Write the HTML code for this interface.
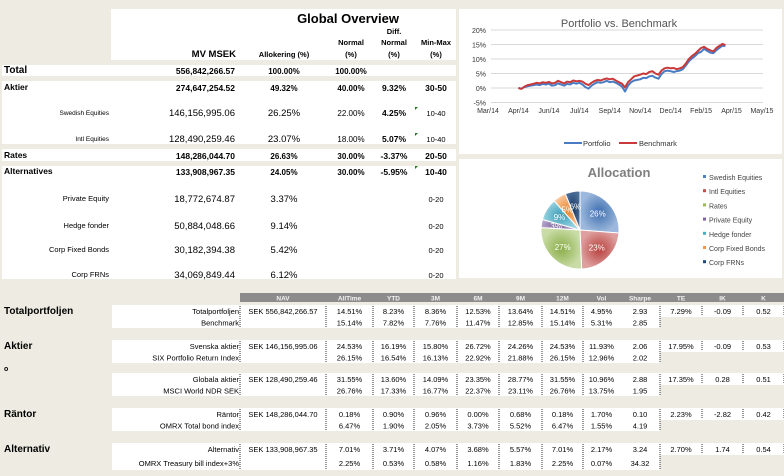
<!DOCTYPE html>
<html><head><meta charset="utf-8">
<style>
body{margin:0;background:#edebe2;}
svg{display:block;font-family:"Liberation Sans",sans-serif;}
</style></head>
<body>
<svg id="s" width="784" height="476" viewBox="0 0 784 476" xmlns="http://www.w3.org/2000/svg">
<defs>
<radialGradient id="gBlue" cx="0.5" cy="0.5" r="0.5"><stop offset="0" stop-color="#3d6fb0"/><stop offset="1" stop-color="#9db8dc"/></radialGradient>
<radialGradient id="gRed" cx="0.5" cy="0.5" r="0.5"><stop offset="0" stop-color="#b8403d"/><stop offset="1" stop-color="#dea09f"/></radialGradient>
<radialGradient id="gGreen" cx="0.5" cy="0.5" r="0.5"><stop offset="0" stop-color="#8aae48"/><stop offset="1" stop-color="#c9dca6"/></radialGradient>
<radialGradient id="gPurple" cx="0.5" cy="0.5" r="0.5"><stop offset="0" stop-color="#6e5590"/><stop offset="1" stop-color="#b5a4cc"/></radialGradient>
<radialGradient id="gCyan" cx="0.5" cy="0.5" r="0.5"><stop offset="0" stop-color="#3b9cb6"/><stop offset="1" stop-color="#9bd4e2"/></radialGradient>
<radialGradient id="gOrange" cx="0.5" cy="0.5" r="0.5"><stop offset="0" stop-color="#e8852e"/><stop offset="1" stop-color="#f9c59a"/></radialGradient>
<radialGradient id="gNavy" cx="0.5" cy="0.5" r="0.5"><stop offset="0" stop-color="#17375e"/><stop offset="1" stop-color="#4a6d98"/></radialGradient>
</defs>
</svg>
<script>
// ---------- line chart data ----------
const xTickLabels=["Mar/14","Apr/14","Jun/14","Jul/14","Sep/14","Nov/14","Dec/14","Feb/15","Apr/15","May/15"];
const yTickValues=[20,15,10,5,0,-5];
const seriesStart=1.0, seriesStep=0.1;
const benchmark=[0.0,-0.3,0.5,1.0,1.2,1.5,1.8,1.6,2.0,1.8,
2.1,1.6,1.8,2.5,2.0,1.6,2.2,2.0,2.6,2.3,
2.5,2.2,1.5,1.0,1.8,2.4,2.8,2.6,3.0,3.3,
3.0,3.2,2.6,2.0,1.5,0.2,2.0,3.0,4.0,4.3,
4.6,5.0,4.8,5.5,5.8,5.0,4.6,6.0,6.8,7.0,
6.8,6.9,6.5,6.8,7.2,8.5,10.0,11.0,11.8,12.8,
13.8,14.2,13.5,13.0,12.6,13.8,14.5,15.2,14.8];
const portfolio=[0.0,-0.2,0.3,0.6,0.8,1.0,1.2,1.0,1.4,1.2,
1.5,0.8,1.0,1.6,1.2,0.8,1.4,1.2,1.8,1.5,
1.8,1.2,0.3,-0.2,0.8,1.5,2.0,1.8,2.0,2.5,
2.0,2.2,1.8,1.2,0.5,-1.2,0.8,2.0,2.6,2.8,
3.0,3.5,3.4,4.0,4.2,3.6,3.2,4.8,5.8,6.0,
5.8,5.5,5.8,6.0,6.5,7.8,9.2,10.2,11.0,12.0,
12.5,13.5,12.8,12.2,12.0,13.0,13.8,14.6,14.5];
// ---------- pie data ----------
const pieLabels=["Swedish Equities","Intl Equities","Rates","Private Equity","Hedge fonder","Corp Fixed Bonds","Corp FRNs"];
const pieValues=[26.25,23.07,26.63,3.37,9.14,5.42,6.12];
const pieFills=["url(#gBlue)","url(#gRed)","url(#gGreen)","url(#gPurple)","url(#gCyan)","url(#gOrange)","url(#gNavy)"];
const pieLegendColors=["#4f81bd","#c0504d","#9bbb59","#8064a2","#4bacc6","#f79646","#1f497d"];

const NS="http://www.w3.org/2000/svg";
const svg=document.getElementById('s');
function el(tag,attrs,parent){const e=document.createElementNS(NS,tag);for(const k in attrs)e.setAttribute(k,attrs[k]);(parent||svg).appendChild(e);return e;}
function T(x,y,s,size,anchor,weight,fill,name){const t=el('text',{x:x,y:y,'font-size':size,'text-anchor':anchor||'start','font-weight':weight||'normal',fill:fill||'#000'});t.textContent=s;


return t;}
function R(x,y,w,h,fill,name){const r=el('rect',{x:x,y:y,width:w,height:h,fill:fill});


return r;}

// ---------- top table ----------
R(111,9,345,51,'#fff','overview-header-box');
R(2,65,454,11,'#fff','row-total-band');
R(2,81,454,63,'#fff','row-aktier-band');
R(2,149,454,12,'#fff','row-rates-band');
R(2,166,454,113,'#fff','row-alternatives-band');
T(348,23,"Global Overview",13,'middle','bold','#000','overview-title');
T(236,57,"MV MSEK",9.5,'end','bold','#000','col-mv');
T(284,57,"Allokering (%)",7.5,'middle','bold','#000','col-allokering');
T(351,45,"Normal",7.5,'middle','bold','#000','col-normal');
T(351,57,"(%)",7.5,'middle','bold','#000','col-normal-unit');
T(394,34,"Diff.",7.5,'middle','bold','#000','col-diff');
T(394,45,"Normal",7.5,'middle','bold','#000','col-diff-normal');
T(394,57,"(%)",7.5,'middle','bold','#000','col-diff-unit');
T(436,45,"Min-Max",7.5,'middle','bold','#000','col-minmax');
T(436,57,"(%)",7.5,'middle','bold','#000','col-minmax-unit');
const topRows=[
 ["Total","556,842,266.57","100.00%","100.00%","","",74,'total',1],
 ["Aktier","274,647,254.52","49.32%","40.00%","9.32%","30-50",91,'main',0],
 ["Swedish Equities","146,156,995.06","26.25%","22.00%","4.25%","10-40",116,'sub',1],
 ["Intl Equities","128,490,259.46","23.07%","18.00%","5.07%","10-40",142,'sub',1],
 ["Rates","148,286,044.70","26.63%","30.00%","-3.37%","20-50",159,'main',0],
 ["Alternatives","133,908,967.35","24.05%","30.00%","-5.95%","10-40",175,'main',1],
 ["Private Equity","18,772,674.87","3.37%","","","0-20",202,'alt',0],
 ["Hedge fonder","50,884,048.66","9.14%","","","0-20",229,'alt',0],
 ["Corp Fixed Bonds","30,182,394.38","5.42%","","","0-20",253,'alt',0],
 ["Corp FRNs","34,069,849.44","6.12%","","","0-20",278,'alt',0]];
topRows.forEach(r=>{
 const y=r[6],k=r[7];
 const main=(k==='main'||k==='total');
 if(main) T(4,y-1,r[0],k==='total'?10:8.5,'start','bold','#000','row-label');
 else T(109,y-1,r[0],k==='sub'?6.5:7.5,'end','normal','#000','row-label');
 T(235,y,r[1],main?8.5:9.5,'end',main?'bold':'normal','#000','row-mv');
 T(284,y,r[2],main?8:9.5,'middle',main?'bold':'normal','#000','row-allokering');
 if(r[3])T(351,y,r[3],main?8:8,'middle',main?'bold':'normal','#000','row-normal');
 if(r[4])T(394,y,r[4],8.5,'middle','bold','#000','row-diff');
 if(r[5])T(436,y,r[5],main?8.5:7.5,'middle',main?'bold':'normal','#000','row-minmax');
 if(r[8]&&k!=='total'){const p=el('path',{d:`M415 ${y-9} h3 l-3 3z`,fill:'#1a7a1a'});
  
  }
});

// ---------- line chart ----------
R(459,9,323,145,'#fff','line-chart-panel');
T(619,27,"Portfolio vs. Benchmark",11,'middle','normal','#555','line-chart-title');
const x0=488,dx=30.44,yZero=88,pxPer=2.9;
const xs=t=>x0+t*dx, ys=v=>yZero-v*pxPer;
yTickValues.forEach(v=>{
 const g=el('line',{x1:491,x2:763,y1:ys(v),y2:ys(v),stroke:'#d9d9d9','stroke-width':1});
 
 
 T(486,ys(v)+3,v+"%",7,'end','normal','#333','y-tick-label');
});
xTickLabels.forEach((l,i)=>T(xs(i),113,l,7,'middle','normal','#333','x-tick-label'));
function linePath(arr){return arr.map((v,i)=>(i?'L':'M')+xs(seriesStart+i*seriesStep).toFixed(1)+' '+ys(v).toFixed(1)).join(' ');}
const pl=el('path',{d:linePath(portfolio),fill:'none',stroke:'#4a7cc4','stroke-width':2,'stroke-linejoin':'round'});


const bl=el('path',{d:linePath(benchmark),fill:'none',stroke:'#c9393a','stroke-width':2,'stroke-linejoin':'round'});


const l1=el('line',{x1:564,x2:582,y1:143,y2:143,stroke:'#4a7cc4','stroke-width':2});


T(583,146,"Portfolio",7.5,'start','normal','#333','legend-portfolio');
const l2=el('line',{x1:619,x2:637,y1:143,y2:143,stroke:'#c9393a','stroke-width':2});


T(639,146,"Benchmark",7.5,'start','normal','#333','legend-benchmark');

// ---------- pie ----------
R(459,159,323,119,'#fff','allocation-panel');
T(619,177,"Allocation",13,'middle','bold','#7f7f7f','pie-title');
const cx=580,cy=230,rad=39;
const total=pieValues.reduce((a,b)=>a+b,0);
let acc=0;
pieValues.forEach((v,i)=>{
 const a0=acc/total*2*Math.PI-Math.PI/2; acc+=v; const a1=acc/total*2*Math.PI-Math.PI/2;
 const large=(a1-a0)>Math.PI?1:0;
 const d=`M${cx} ${cy} L${cx+rad*Math.cos(a0)} ${cy+rad*Math.sin(a0)} A${rad} ${rad} 0 ${large} 1 ${cx+rad*Math.cos(a1)} ${cy+rad*Math.sin(a1)} Z`;
 const p=el('path',{d:d,fill:pieFills[i],stroke:'#fff','stroke-width':1});
 
 
 const am=(a0+a1)/2, lr=rad*0.62;
 T(cx+lr*Math.cos(am),cy+lr*Math.sin(am)+3,Math.round(v)+"%",8,'middle','normal','#fff','pie-slice-label');
 const m=el('rect',{x:703,y:175+i*14.2,width:3,height:3,fill:pieLegendColors[i]});
 
 
 T(709,180+i*14.2,pieLabels[i],7,'start','normal','#444','legend-entry');
});

// ---------- bottom table ----------
const colBounds=[240,326,373,414,457,499,542,583,620,660,702,743,784];
const colHeads=["NAV","AllTime","YTD","3M","6M","9M","12M","Vol","Sharpe","TE","IK","K"];
R(240,293,544,9,'#8c8c8c','perf-header-bar');
colHeads.forEach((h,i)=>T((colBounds[i]+colBounds[i+1])/2,300.5,h,6.5,'middle','bold','#f2f2f2','perf-col-header'));
const groups=[
 ["Totalportfoljen",305,[["Totalportfoljen","SEK 556,842,266.57","14.51%","8.23%","8.36%","12.53%","13.64%","14.51%","4.95%","2.93","7.29%","-0.09","0.52"],["Benchmark","","15.14%","7.82%","7.76%","11.47%","12.85%","15.14%","5.31%","2.85"]]],
 ["Aktier",340,[["Svenska aktier","SEK 146,156,995.06","24.53%","16.19%","15.80%","26.72%","24.26%","24.53%","11.93%","2.06","17.95%","-0.09","0.53"],["SIX Portfolio Return Index","","26.15%","16.54%","16.13%","22.92%","21.88%","26.15%","12.96%","2.02"]]],
 ["",373,[["Globala aktier","SEK 128,490,259.46","31.55%","13.60%","14.09%","23.35%","28.77%","31.55%","10.96%","2.88","17.35%","0.28","0.51"],["MSCI World NDR SEK","","26.76%","17.33%","16.77%","22.37%","23.11%","26.76%","13.75%","1.95"]]],
 ["Räntor",408,[["Räntor","SEK 148,286,044.70","0.18%","0.90%","0.96%","0.00%","0.68%","0.18%","1.70%","0.10","2.23%","-2.82","0.42"],["OMRX Total bond index","","6.47%","1.90%","2.05%","3.73%","5.52%","6.47%","1.55%","4.19"]]],
 ["Alternativ",443,[["Alternativ","SEK 133,908,967.35","7.01%","3.71%","4.07%","3.68%","5.57%","7.01%","2.17%","3.24","2.70%","1.74","0.54"],["OMRX Treasury bill index+3%","","2.25%","0.53%","0.58%","1.16%","1.83%","2.25%","0.07%","34.32"]]]];
groups.forEach((g,gi)=>{
 const y0=g[1]; const h1=12, h2=(gi===4)?15:11;
 R(112,y0,672,h1,'#fff','perf-row-band');
 R(112,y0+h1,548,h2,'#fff','perf-row-band');
 if(g[0])T(4,y0+9,g[0],10,'start','bold','#000','perf-group-label');
 g[2].forEach((row,ri)=>{
  const yy=ri===0?y0+9:y0+h1+(gi===4?11:8.5);
  T(239,yy,row[0],7.5,'end','normal','#000','perf-row-label');
  for(let c=1;c<row.length;c++){ if(!row[c])continue;
   T((colBounds[c-1]+colBounds[c])/2,yy,row[c],7.5,'middle','normal','#000','perf-cell');}
 });
 colBounds.forEach((bx,bi)=>{
  if(bi===8)return;
  const yb=y0, ye=bx>660?y0+h1:y0+h1+h2;
  const ln=el('line',{x1:bx,x2:bx,y1:yb+1,y2:ye-1,stroke:'#333','stroke-width':1,'stroke-dasharray':'1 1'});
  
  
 });
});
T(4,371,"o",7,'start','bold','#000','stray-marker');
</script>
</body></html>
